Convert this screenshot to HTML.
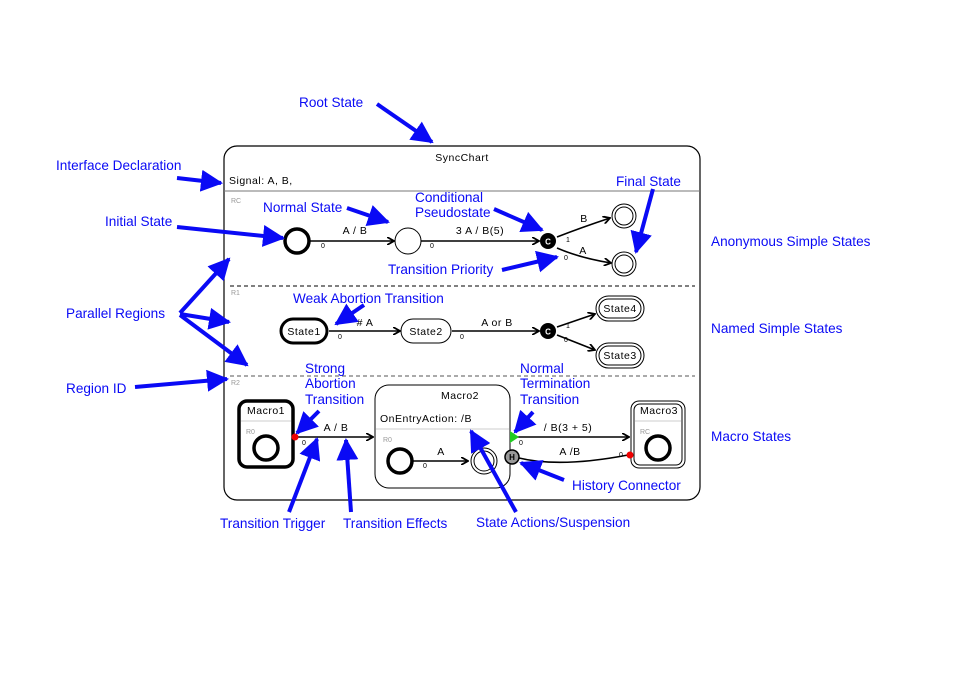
<!DOCTYPE html>
<html><head><meta charset="utf-8"><style>
html,body{margin:0;padding:0;background:#fff;}
svg{display:block;font-family:"Liberation Sans","DejaVu Sans",sans-serif;}
.b{fill:#0a0af5;font-size:13.6px;}
.k{fill:#000;font-size:10.5px;letter-spacing:0.5px;}
.p{fill:#000;font-size:7px;}
.r{fill:#999;font-size:7px;}
.ba{stroke:#0a0af5;stroke-width:4;fill:none;marker-end:url(#bh);}
.ka{stroke:#000;stroke-width:1.6;fill:none;marker-end:url(#kh);}
</style></head><body>
<svg width="959" height="678" viewBox="0 0 959 678" xmlns="http://www.w3.org/2000/svg">
<defs>
<marker id="bh" markerWidth="5.5" markerHeight="5.5" refX="5" refY="2.75" orient="auto" markerUnits="strokeWidth"><path d="M0,0 L5.5,2.75 L0,5.5 z" fill="#0a0af5"/></marker>
<marker id="kh" markerWidth="8" markerHeight="8" refX="7" refY="4" orient="auto" markerUnits="userSpaceOnUse"><path d="M0,0 L7,4 L0,8" fill="none" stroke="#000" stroke-width="1.8"/></marker>
</defs>
<!-- root -->
<rect x="224" y="146" width="476" height="354" rx="13" fill="#fff" stroke="#000" stroke-width="1.2"/>
<text class="k" x="462" y="161" text-anchor="middle">SyncChart</text>
<text class="k" x="229" y="184">Signal: A,  B,</text>
<line x1="224" y1="191" x2="700" y2="191" stroke="#777"/>
<text class="r" x="231" y="203">RC</text>
<line x1="230" y1="286" x2="695" y2="286" stroke="#000" stroke-dasharray="4,3"/>
<text class="r" x="231" y="295">R1</text>
<line x1="230" y1="376" x2="695" y2="376" stroke="#555" stroke-dasharray="4,3"/>
<text class="r" x="231" y="385">R2</text>
<!-- region 0 -->
<circle cx="297" cy="241" r="12" fill="#fff" stroke="#000" stroke-width="3.5"/>
<line class="ka" x1="310" y1="241" x2="394" y2="241"/>
<text class="k" x="355" y="234" text-anchor="middle">A / B</text>
<text class="p" x="321" y="248">0</text>
<circle cx="408" cy="241" r="13" fill="#fff" stroke="#000" stroke-width="1"/>
<line class="ka" x1="421" y1="241" x2="539" y2="241"/>
<text class="k" x="480" y="234" text-anchor="middle">3 A / B(5)</text>
<text class="p" x="430" y="248">0</text>
<circle cx="548" cy="241" r="8" fill="#000"/>
<text x="548" y="244.5" fill="#fff" font-size="8" font-weight="bold" text-anchor="middle">C</text>
<path class="ka" d="M557,237 Q580,228 610,218"/>
<path class="ka" d="M557,248 Q580,258 611,263"/>
<text class="k" x="584" y="222" text-anchor="middle">B</text>
<text class="k" x="583" y="254" text-anchor="middle">A</text>
<text class="p" x="566" y="242">1</text>
<text class="p" x="564" y="260">0</text>
<circle cx="624" cy="216" r="12" fill="#fff" stroke="#000"/><circle cx="624" cy="216" r="9" fill="none" stroke="#000"/>
<circle cx="624" cy="264" r="12" fill="#fff" stroke="#000"/><circle cx="624" cy="264" r="9" fill="none" stroke="#000"/>
<!-- region 1 -->
<rect x="281" y="319" width="46" height="24" rx="12" fill="#fff" stroke="#000" stroke-width="3"/>
<text class="k" x="304" y="335" text-anchor="middle">State1</text>
<line class="ka" x1="329" y1="331" x2="400" y2="331"/>
<text class="k" x="365" y="326" text-anchor="middle"># A</text>
<text class="p" x="338" y="339">0</text>
<rect x="401" y="319" width="50" height="24" rx="12" fill="#fff" stroke="#000"/>
<text class="k" x="426" y="335" text-anchor="middle">State2</text>
<line class="ka" x1="452" y1="331" x2="539" y2="331"/>
<text class="k" x="497" y="326" text-anchor="middle">A or B</text>
<text class="p" x="460" y="339">0</text>
<circle cx="548" cy="331" r="8" fill="#000"/>
<text x="548" y="334.5" fill="#fff" font-size="8" font-weight="bold" text-anchor="middle">C</text>
<line class="ka" x1="557" y1="327" x2="595" y2="314"/>
<line class="ka" x1="557" y1="335" x2="595" y2="350"/>
<text class="p" x="566" y="328">1</text>
<text class="p" x="564" y="342">0</text>
<rect x="596" y="296" width="48" height="25" rx="12.5" fill="#fff" stroke="#000"/><rect x="599" y="299" width="42" height="19" rx="9.5" fill="none" stroke="#000"/>
<text class="k" x="620" y="312" text-anchor="middle">State4</text>
<rect x="596" y="343" width="48" height="25" rx="12.5" fill="#fff" stroke="#000"/><rect x="599" y="346" width="42" height="19" rx="9.5" fill="none" stroke="#000"/>
<text class="k" x="620" y="359" text-anchor="middle">State3</text>
<!-- region 2 -->
<rect x="239" y="401" width="54" height="66" rx="8" fill="#fff" stroke="#000" stroke-width="3.5"/>
<text class="k" x="266" y="414" text-anchor="middle">Macro1</text>
<line x1="241" y1="421" x2="291" y2="421" stroke="#ccc"/>
<text class="r" x="246" y="434">R0</text>
<circle cx="266" cy="448" r="12" fill="#fff" stroke="#000" stroke-width="3.5"/>
<line class="ka" x1="297" y1="437" x2="373" y2="437"/>
<circle cx="295" cy="437" r="3.5" fill="#e00"/>
<text class="k" x="336" y="431" text-anchor="middle">A / B</text>
<text class="p" x="302" y="445">0</text>
<rect x="375" y="385" width="135" height="103" rx="14" fill="#fff" stroke="#000"/>
<text class="k" x="460" y="399" text-anchor="middle">Macro2</text>
<text class="k" x="380" y="422">OnEntryAction: /B</text>
<line x1="376" y1="429" x2="509" y2="429" stroke="#ccc"/>
<text class="r" x="383" y="442">R0</text>
<circle cx="400" cy="461" r="12" fill="#fff" stroke="#000" stroke-width="3.5"/>
<line class="ka" x1="413" y1="461" x2="468" y2="461"/>
<text class="k" x="441" y="455" text-anchor="middle">A</text>
<text class="p" x="423" y="468">0</text>
<circle cx="484" cy="461" r="13" fill="#fff" stroke="#000"/><circle cx="484" cy="461" r="10" fill="none" stroke="#000"/>
<line class="ka" x1="513" y1="437" x2="629" y2="437"/>
<path d="M510,431 L519,437 L510,443 z" fill="#2c2"/>
<text class="k" x="568" y="431" text-anchor="middle">/ B(3 + 5)</text>
<text class="p" x="519" y="445">0</text>
<path d="M519,458 Q560,468 628,455" fill="none" stroke="#000" stroke-width="1.6"/>
<text class="k" x="570" y="455" text-anchor="middle">A /B</text>
<text class="p" x="619" y="457">0</text>
<circle cx="512" cy="457" r="7" fill="#999" stroke="#000" stroke-width="1.5"/>
<text x="512" y="460" fill="#000" font-size="8" font-weight="bold" text-anchor="middle">H</text>
<rect x="631" y="401" width="54" height="67" rx="8" fill="#fff" stroke="#000"/><rect x="634" y="404" width="48" height="61" rx="6" fill="none" stroke="#000"/>
<text class="k" x="659" y="414" text-anchor="middle">Macro3</text>
<line x1="635" y1="421" x2="681" y2="421" stroke="#ccc"/>
<text class="r" x="640" y="434">RC</text>
<circle cx="658" cy="448" r="12" fill="#fff" stroke="#000" stroke-width="3.5"/>
<circle cx="630" cy="455" r="3.5" fill="#e00"/>
<!-- annotations -->
<text class="b" x="299" y="107">Root State</text>
<line class="ba" x1="377" y1="104" x2="432" y2="142"/>
<text class="b" x="56" y="170">Interface Declaration</text>
<line class="ba" x1="177" y1="178" x2="221" y2="183"/>
<text class="b" x="105" y="226">Initial State</text>
<line class="ba" x1="177" y1="227" x2="283" y2="238"/>
<text class="b" x="263" y="212">Normal State</text>
<line class="ba" x1="347" y1="208" x2="388" y2="222"/>
<text class="b" x="415" y="202">Conditional</text>
<text class="b" x="415" y="217">Pseudostate</text>
<line class="ba" x1="494" y1="209" x2="542" y2="230"/>
<text class="b" x="616" y="186">Final State</text>
<line class="ba" x1="653" y1="189" x2="636" y2="252"/>
<text class="b" x="388" y="274">Transition Priority</text>
<line class="ba" x1="502" y1="270" x2="557" y2="257"/>
<text class="b" x="711" y="246">Anonymous Simple States</text>
<text class="b" x="66" y="318">Parallel Regions</text>
<line class="ba" x1="180" y1="313" x2="229" y2="259"/>
<line class="ba" x1="180" y1="314" x2="229" y2="322"/>
<line class="ba" x1="180" y1="315" x2="247" y2="365"/>
<text class="b" x="293" y="303">Weak Abortion Transition</text>
<line class="ba" x1="364" y1="305" x2="336" y2="324"/>
<text class="b" x="711" y="333">Named Simple States</text>
<text class="b" x="66" y="393">Region ID</text>
<line class="ba" x1="135" y1="387" x2="227" y2="379"/>
<text class="b" x="305" y="373">Strong</text>
<text class="b" x="305" y="388">Abortion</text>
<text class="b" x="305" y="404">Transition</text>
<line class="ba" x1="319" y1="411" x2="297" y2="433"/>
<text class="b" x="520" y="373">Normal</text>
<text class="b" x="520" y="388">Termination</text>
<text class="b" x="520" y="404">Transition</text>
<line class="ba" x1="533" y1="412" x2="515" y2="432"/>
<text class="b" x="711" y="441">Macro States</text>
<text class="b" x="220" y="528">Transition Trigger</text>
<line class="ba" x1="289" y1="512" x2="317" y2="439"/>
<text class="b" x="343" y="528">Transition Effects</text>
<line class="ba" x1="351" y1="512" x2="346" y2="440"/>
<text class="b" x="476" y="527">State Actions/Suspension</text>
<line class="ba" x1="516" y1="512" x2="471" y2="431"/>
<text class="b" x="572" y="490">History Connector</text>
<line class="ba" x1="564" y1="480" x2="521" y2="463"/>
</svg>
</body></html>
